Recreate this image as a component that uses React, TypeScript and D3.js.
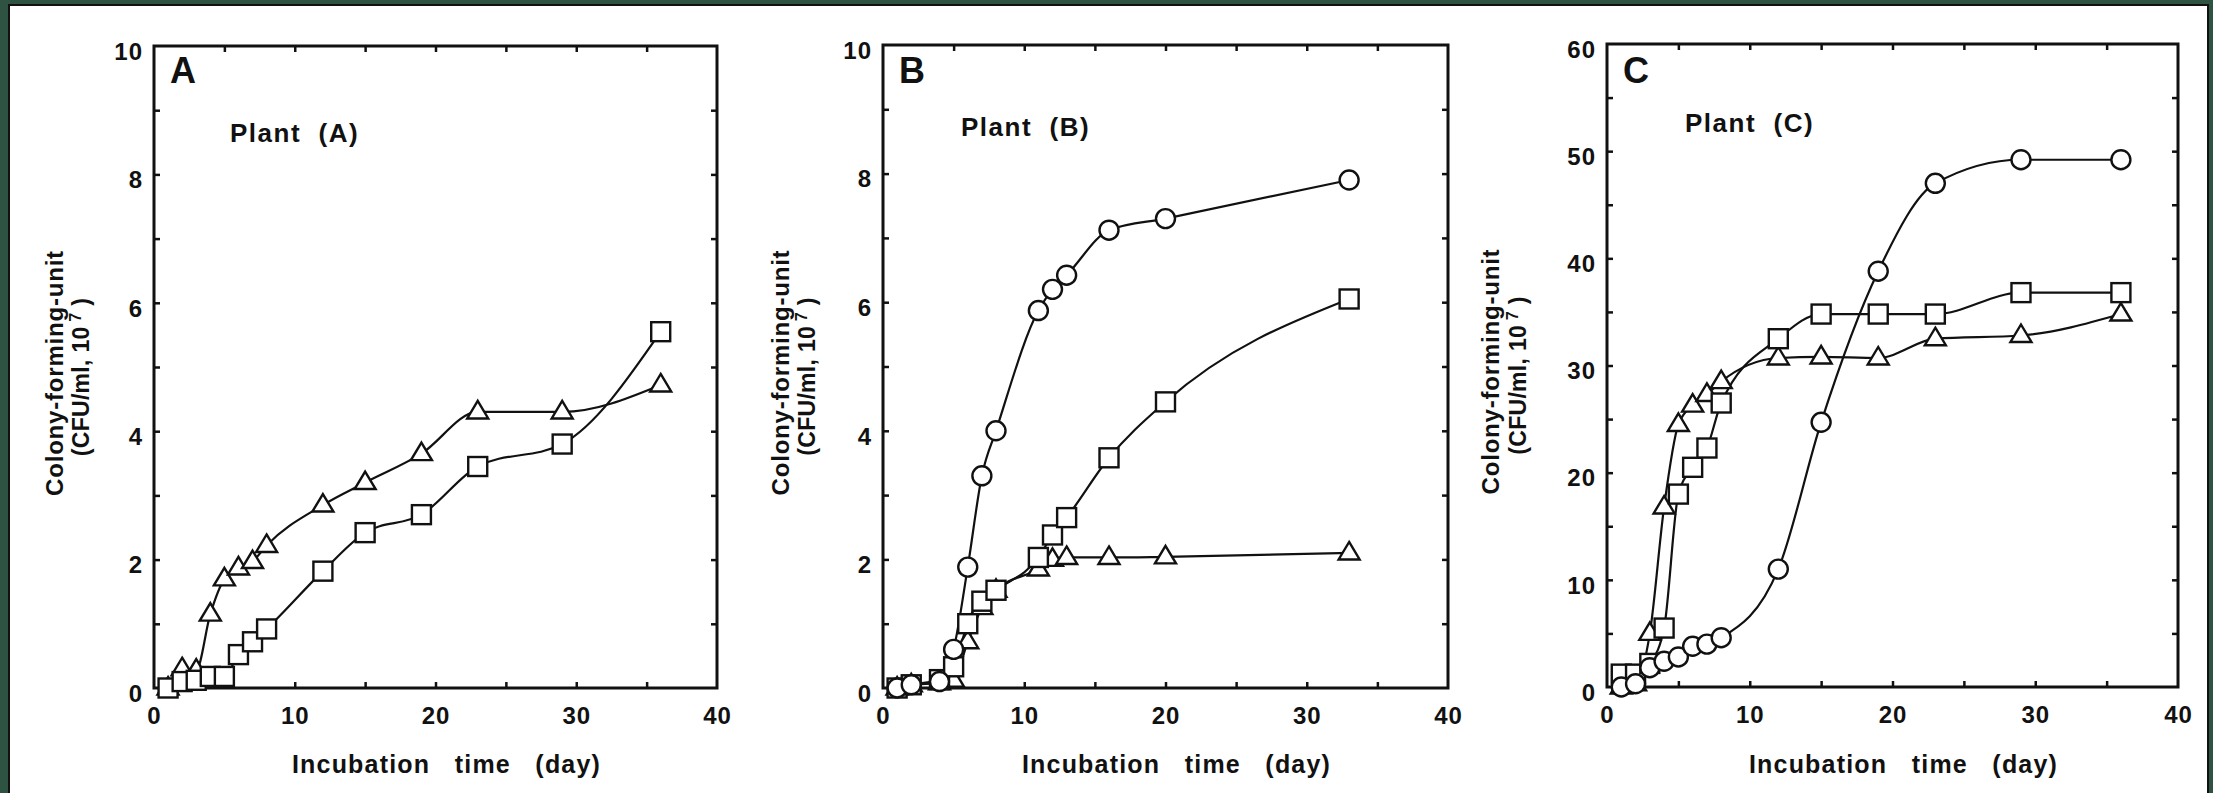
import { useEffect, useRef } from "react";
import * as d3 from "d3";

const W = 2213;
const H = 793;
const FONT = "'Liberation Sans', Arial, Helvetica, sans-serif";

// Plant (A)
const daysA = [1, 2, 3, 4, 5, 6, 7, 8, 12, 15, 19, 23, 29, 36];
const triA = [0, 0.3, 0.28, 1.15, 1.7, 1.87, 1.97, 2.22, 2.85, 3.2, 3.65, 4.3, 4.3, 4.72];
const sqA = [0, 0.1, 0.12, 0.18, 0.18, 0.52, 0.72, 0.92, 1.82, 2.42, 2.7, 3.45, 3.8, 5.55];

// Plant (B)
const daysB = [1, 2, 4, 5, 6, 7, 8, 11, 12, 13, 16, 20, 33];
const circB = [0, 0.05, 0.1, 0.6, 1.88, 3.3, 4.0, 5.87, 6.2, 6.42, 7.12, 7.3, 7.9];
const sqB = [0, 0.05, 0.13, 0.33, 1.0, 1.35, 1.52, 2.03, 2.38, 2.65, 3.58, 4.45, 6.05];
const triB = [0, 0.05, 0.08, 0.12, 0.72, 1.25, 1.52, 1.85, 2.0, 2.03, 2.03, 2.04, 2.1];

// Plant (C)
const daysC = [1, 2, 3, 4, 5, 6, 7, 8, 12, 15, 19, 23, 29, 36];
const circC = [0, 0.3, 1.8, 2.4, 2.8, 3.8, 4.0, 4.6, 11, 24.7, 38.8, 47, 49.2, 49.2];
const sqC = [1.2, 1.2, 2.2, 5.5, 18, 20.5, 22.3, 26.5, 32.5, 34.8, 34.8, 34.8, 36.8, 36.8];
const triC = [0, 0.3, 5, 16.8, 24.5, 26.3, 27.3, 28.5, 30.7, 30.8, 30.7, 32.5, 32.8, 34.8];

const xLabels = [0, 10, 20, 30, 40];
const xMinor = [5, 10, 15, 20, 25, 30, 35];
const yLabelsAB = [0, 2, 4, 6, 8, 10];
const yLabelsC = [0, 10, 20, 30, 40, 50, 60];

const panels = [
  {
    letter: "A",
    plant: "Plant  (A)",
    box: [154, 46, 717, 688],
    yMax: 10,
    yLabels: yLabelsAB,
    yStep: 1,
    plantPos: [230, 142],
    titleX: [55, 81],
    series: [
      { shape: "triangle", days: daysA, values: triA },
      { shape: "square", days: daysA, values: sqA },
    ],
  },
  {
    letter: "B",
    plant: "Plant  (B)",
    box: [883, 45, 1448, 688],
    yMax: 10,
    yLabels: yLabelsAB,
    yStep: 1,
    plantPos: [961, 136],
    titleX: [781, 807],
    series: [
      { shape: "triangle", days: daysB, values: triB },
      { shape: "square", days: daysB, values: sqB },
      { shape: "circle", days: daysB, values: circB },
    ],
  },
  {
    letter: "C",
    plant: "Plant  (C)",
    box: [1607, 44, 2178, 687],
    yMax: 60,
    yLabels: yLabelsC,
    yStep: 5,
    plantPos: [1685, 132],
    titleX: [1491, 1518],
    series: [
      { shape: "triangle", days: daysC, values: triC },
      { shape: "square", days: daysC, values: sqC },
      { shape: "circle", days: daysC, values: circC },
    ],
  },
];

function drawPanel(svg: any, p: any) {
  const [x0, y0, x1, y1] = p.box;
  const x = d3.scaleLinear().domain([0, 40]).range([x0, x1]);
  const y = d3.scaleLinear().domain([0, p.yMax]).range([y1, y0]);
  const yMinor = d3.range(p.yStep, p.yMax, p.yStep);
  const g = svg.append("g");

  const styleTicks = (sel: any) => {
    sel.select(".domain").remove();
    sel.selectAll("line").attr("stroke", "#111").attr("stroke-width", 2.5);
  };

  // inward ticks on all four sides
  g.append("g").attr("transform", `translate(0,${y1})`)
    .call(d3.axisBottom(x).tickValues(xMinor).tickSize(-6).tickFormat(() => "")).call(styleTicks);
  g.append("g").attr("transform", `translate(0,${y0})`)
    .call(d3.axisTop(x).tickValues(xMinor).tickSize(-6).tickFormat(() => "")).call(styleTicks);
  g.append("g").attr("transform", `translate(${x0},0)`)
    .call(d3.axisLeft(y).tickValues(yMinor).tickSize(-6).tickFormat(() => "")).call(styleTicks);
  g.append("g").attr("transform", `translate(${x1},0)`)
    .call(d3.axisRight(y).tickValues(yMinor).tickSize(-6).tickFormat(() => "")).call(styleTicks);

  // tick labels
  const xl = g.append("g").attr("transform", `translate(0,${y1})`)
    .call(d3.axisBottom(x).tickValues(xLabels).tickSize(0).tickPadding(19).tickFormat(d3.format("d")));
  const yl = g.append("g").attr("transform", `translate(${x0},0)`)
    .call(d3.axisLeft(y).tickValues(p.yLabels).tickSize(0).tickPadding(11).tickFormat(d3.format("d")));
  [xl, yl].forEach((a) => {
    a.select(".domain").remove();
    a.selectAll("text")
      .attr("fill", "#111")
      .style("font-family", FONT)
      .style("font-weight", "bold")
      .style("font-size", "24px")
      .style("letter-spacing", "1px");
  });
  yl.selectAll("text").attr("dy", "0.55em");

  // frame
  g.append("rect")
    .attr("x", x0).attr("y", y0)
    .attr("width", x1 - x0).attr("height", y1 - y0)
    .attr("fill", "none").attr("stroke", "#111").attr("stroke-width", 3);

  const line = d3.line<any>()
    .x((d) => x(d[0]))
    .y((d) => y(d[1]))
    .curve(d3.curveMonotoneX);

  p.series.forEach((s: any) => {
    const pts = s.days.map((d: number, i: number) => [d, s.values[i]]);
    g.append("path").attr("d", line(pts)).attr("fill", "none")
      .attr("stroke", "#111").attr("stroke-width", 2.2);
  });

  p.series.forEach((s: any) => {
    const pts = s.days.map((d: number, i: number) => [d, s.values[i]]);
    const m = g.append("g").selectAll("g").data(pts).enter().append("g")
      .attr("transform", (d: any) => `translate(${x(d[0])},${y(d[1])})`);
    if (s.shape === "square") {
      m.append("rect").attr("x", -9.5).attr("y", -9.5).attr("width", 19).attr("height", 19);
    } else if (s.shape === "circle") {
      m.append("circle").attr("r", 9.5);
    } else {
      m.append("path").attr("d", "M0,-11L10.5,6.5L-10.5,6.5Z");
    }
    m.selectAll("*").attr("fill", "#fff").attr("stroke", "#111").attr("stroke-width", 2.4);
  });

  // panel letter and plant label
  g.append("text").attr("x", x0 + 16).attr("y", 83)
    .style("font-family", FONT).style("font-weight", "bold").style("font-size", "36px")
    .attr("fill", "#111").text(p.letter);
  g.append("text").attr("x", p.plantPos[0]).attr("y", p.plantPos[1])
    .style("font-family", FONT).style("font-weight", "bold").style("font-size", "26px")
    .style("letter-spacing", "1.5px").style("white-space", "pre")
    .attr("fill", "#111").text(p.plant);

  // x title
  g.append("text").attr("x", (x0 + x1) / 2 + 11).attr("y", 773).attr("text-anchor", "middle")
    .style("font-family", FONT).style("font-weight", "bold").style("font-size", "25px")
    .style("letter-spacing", "1.2px").style("white-space", "pre")
    .attr("fill", "#111").text("Incubation   time   (day)");

  // y title, two lines
  const cy = (y0 + y1) / 2 + 6;
  g.append("text")
    .attr("transform", `translate(${p.titleX[0]},${cy}) rotate(-90)`)
    .attr("text-anchor", "middle").attr("dy", "0.35em")
    .style("font-family", FONT).style("font-weight", "bold").style("font-size", "24px")
    .style("letter-spacing", "0.8px")
    .attr("fill", "#111").text("Colony-forming-unit");
  const t2 = g.append("text")
    .attr("transform", `translate(${p.titleX[1]},${cy + 4}) rotate(-90)`)
    .attr("text-anchor", "middle").attr("dy", "0.35em")
    .style("font-family", FONT).style("font-weight", "bold").style("font-size", "23px")
    .style("letter-spacing", "0.3px").style("white-space", "pre")
    .attr("fill", "#111");
  t2.append("tspan").text("(CFU/ml, 10");
  t2.append("tspan").attr("baseline-shift", "super").style("font-size", "16px").text(" 7");
  t2.append("tspan").text(" )");
}

export default function App() {
  const ref = useRef<SVGSVGElement>(null);

  useEffect(() => {
    const svg = d3.select(ref.current);
    svg.selectAll("*").remove();

    svg.append("rect").attr("width", W).attr("height", H).attr("fill", "#2f5343");
    svg.append("rect")
      .attr("x", 9).attr("y", 5).attr("width", 2199).attr("height", 800)
      .attr("fill", "#fff").attr("stroke", "#111").attr("stroke-width", 2);

    panels.forEach((p) => drawPanel(svg, p));
  }, []);

  return (
    <svg
      ref={ref}
      width={W}
      height={H}
      style={{ position: "absolute", left: 0, top: 0, display: "block" }}
    />
  );
}
